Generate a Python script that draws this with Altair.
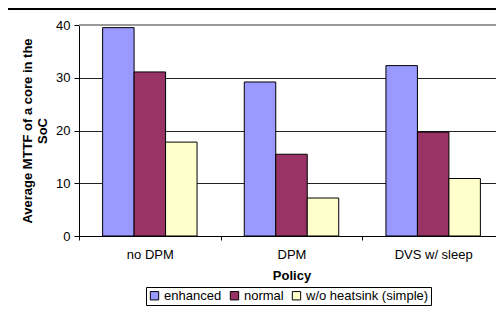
import altair as alt
import pandas as pd

policies = ["no DPM", "DPM", "DVS w/ sleep"]
series = ["enhanced", "normal", "w/o heatsink (simple)"]
enhanced = [39.5, 29.2, 32.3]
normal = [31.1, 15.5, 19.7]
simple = [17.8, 7.2, 10.9]
colors = ["#9999FF", "#993366", "#FFFFCC"]
y_ticks = [0, 10, 20, 30, 40]

rows = []
for s, vals in zip(series, [enhanced, normal, simple]):
    for p, v in zip(policies, vals):
        rows.append({"Policy": p, "Series": s, "Value": v})
df = pd.DataFrame(rows)

FONT = "Liberation Sans"

bars = alt.Chart(df).mark_bar(stroke="black", strokeWidth=1).encode(
    x=alt.X("Policy:N", sort=policies,
            scale=alt.Scale(paddingInner=0, paddingOuter=0, range=[0, 425]),
            axis=alt.Axis(title="Policy", labelAngle=0, tickBand="extent",
                          tickSize=4, labelPadding=8, titlePadding=8,
                          domainColor="black", tickColor="black")),
    xOffset=alt.XOffset("Series:N", sort=series,
                        scale=alt.Scale(paddingInner=0, paddingOuter=0.75)),
    y=alt.Y("Value:Q", scale=alt.Scale(domain=[0, 40]),
            axis=alt.Axis(title=["Average MTTF of a core in the", "SoC"],
                          values=y_ticks, tickSize=5, labelPadding=4,
                          titlePadding=6, grid=True, gridColor="#222222",
                          domainColor="black", tickColor="black",
                          gridOpacity={"condition": {"test": "datum.value === 40", "value": 0}, "value": 1})),
    color=alt.Color("Series:N", sort=series,
                    scale=alt.Scale(domain=series, range=colors),
                    legend=alt.Legend(title=None, orient="none", legendX=67, legendY=262,
                                      direction="horizontal", symbolType="square",
                                      symbolSize=70, symbolStrokeColor="black",
                                      symbolStrokeWidth=1, strokeColor="black",
                                      padding=2, columnPadding=6, labelOffset=3,
                                      labelFontSize=13, labelFont=FONT,
                                      labelColor="black")),
)

frame_top = alt.Chart(df).mark_rule(color="black", strokeWidth=1).encode(
    x=alt.value(-73), x2=alt.value(430), y=alt.value(-16)
)
frame_left = alt.Chart(df).mark_rule(color="black", strokeWidth=1).encode(
    x=alt.value(-73), y=alt.value(-16), y2=alt.value(290)
)
plot_top = alt.Chart(df).mark_rule(color="#999999", strokeWidth=1).encode(
    x=alt.value(0), x2=alt.value(430), y=alt.value(0)
)

chart = alt.layer(frame_top, frame_left, plot_top, bars).properties(
    width=417, height=211,
    background="white",
    autosize=alt.AutoSizeParams(type="none"),
    padding={"left": 71, "top": 17, "right": 0, "bottom": 70},
).configure_view(strokeWidth=0).configure_axis(
    labelFont=FONT, titleFont=FONT, labelFontSize=13, titleFontSize=13,
    labelColor="black", titleColor="black", titleFontWeight="bold",
)

chart.save("out.html", embed_options={"renderer": "svg", "actions": False})
